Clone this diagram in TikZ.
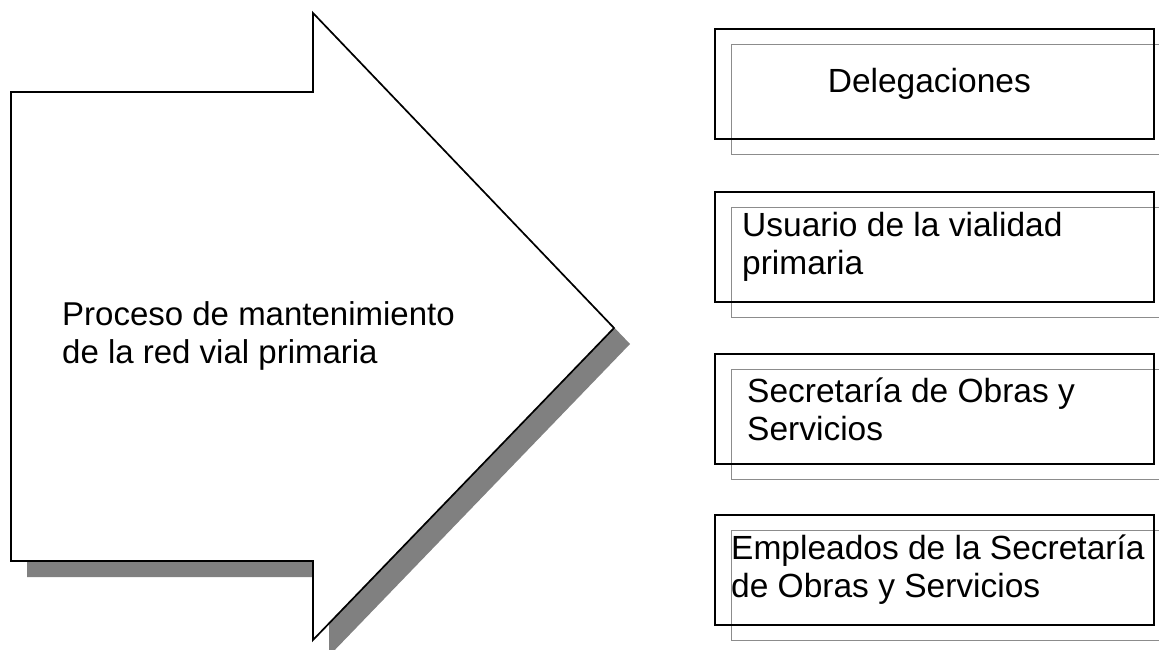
\documentclass[tikz,border=0pt]{standalone}
\usepackage{fontspec}
\setmainfont{Liberation Sans}
\begin{document}
\begin{tikzpicture}[x=1pt,y=-1pt,
  outline/.style={draw=black,line width=1.7pt,line join=miter,fill=white},
  shadowfill/.style={fill=black!50},
  solidbox/.style={draw=black,line width=1.7pt,rectangle,minimum width=439pt,minimum height=110pt,inner sep=0pt,anchor=north west},
  ghostbox/.style={draw=black!45,line width=0.8pt},
  lbl/.style={font=\fontsize{33}{38}\selectfont,align=left,inner sep=0pt,anchor=west},
  boxlbl/.style={lbl,font=\fontsize{33.5}{38}\selectfont}]
\useasboundingbox (0,0) rectangle (1159,650);
\clip (0,0) rectangle (1159,650);
% arrow shadow
\fill[shadowfill,xshift=16pt,yshift=-16pt] (11,92) -- (313,92) -- (313,13) -- (614,328) -- (313,640) -- (313,561) -- (11,561) -- cycle;
% arrow
\draw[outline] (11,92) -- (313,92) -- (313,13) -- (614,328) -- (313,640) -- (313,561) -- (11,561) -- cycle;
\node[lbl] (proc) at (62,336) {Proceso de mantenimiento\\de la red vial primaria};
% boxes
\foreach \t/\n in {28/b1,191/b2,353/b3,514/b4}{
  \draw[ghostbox] (731,\t+16) rectangle (1175,\t+126);
  \node[solidbox] (\n) at (714,\t) {};
}
\node[boxlbl,anchor=center] (t1) at ([xshift=-5pt]b1.center) {Delegaciones};
\node[boxlbl] (t2) at ([xshift=28pt]b2.west) {Usuario de la vialidad\\primaria};
\node[boxlbl] (t3) at ([xshift=33pt]b3.west) {Secretaría de Obras y\\Servicios};
\node[boxlbl] (t4) at ([xshift=17pt]b4.west) {Empleados de la Secretaría\\de Obras y Servicios};
\end{tikzpicture}
\end{document}
